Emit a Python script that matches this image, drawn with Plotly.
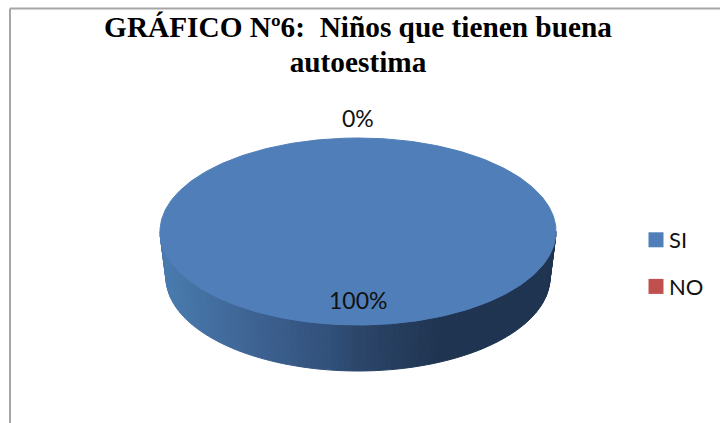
import numpy as np
import plotly.graph_objects as go

categories = ["SI", "NO"]
values = [100, 0]
colors = ["#4F7EB9", "#C0504D"]
title_lines = ["GRÁFICO Nº6:\u00a0\u00a0Niños que tienen buena", "autoestima"]

W, H = 720, 423
CX, CY, RX, RY = 358, 231.5, 198, 93.5
DEPTH, RX_BOTTOM = 46, 192
SIDE_X = [160, 250, 330, 358, 440, 556]
SIDE_RGB = [(74, 124, 176), (62, 100, 148), (49, 80, 122), (44, 70, 106), (31, 52, 80), (31, 52, 80)]

total = sum(values)
fig = go.Figure()

# extruded rim, front half only
edges = np.linspace(np.pi, 0, 91)
for a, b in zip(edges[:-1], edges[1:]):
    th = np.array([a, b, b, a, a])
    top = np.array([True, True, False, False, True])
    r = np.where(top, RX, RX_BOTTOM)
    xs = CX + r * np.cos(th)
    ys = np.where(top, CY, CY + DEPTH) + RY * np.sin(th)
    mx = xs.mean()
    rgb = [int(round(np.interp(mx, SIDE_X, [c[i] for c in SIDE_RGB]))) for i in range(3)]
    col = f"rgb({rgb[0]},{rgb[1]},{rgb[2]})"
    fig.add_trace(go.Scatter(x=xs, y=ys, mode="lines", fill="toself", fillcolor=col,
                             line=dict(color=col, width=1), hoverinfo="skip", showlegend=False))

# top face, one wedge per category
start = 0.0
mids = []
for cat, val, col in zip(categories, values, colors):
    frac = val / total
    mids.append(start + frac / 2)
    if frac > 0:
        t = np.linspace(start, start + frac, 361) * 2 * np.pi
        xs = CX + RX * np.sin(t)
        ys = CY - RY * np.cos(t)
        fig.add_trace(go.Scatter(x=xs, y=ys, mode="lines", fill="toself", fillcolor=col,
                                 line=dict(color=col, width=1), name=cat, showlegend=False,
                                 hoverinfo="name"))
    start += frac

# legend entries
for cat, col in zip(categories, colors):
    fig.add_trace(go.Scatter(x=[None], y=[None], mode="markers", name=cat, legendgroup=cat,
                             marker=dict(symbol="square", size=15, color=col)))

# percentage labels
for val, mid in zip(values, mids):
    a = mid * 2 * np.pi
    k = 0.73 if val > 50 else 1.215
    fig.add_annotation(x=CX + k * RX * np.sin(a), y=CY - k * RY * np.cos(a),
                       text=f"{val}%", showarrow=False,
                       font=dict(family="Lato", size=23, color="#111111"))

title_text = "<br>".join(f'<span style="font-size:29.3px">{s}</span>' for s in title_lines)

fig.update_layout(
    width=W, height=H, autosize=False,
    margin=dict(l=0, r=0, t=0, b=0),
    paper_bgcolor="white", plot_bgcolor="white",
    title=dict(text=title_text, x=358 / W, xanchor="center",
               y=1 - 37 / H, yanchor="top",
               font=dict(family="Liberation Serif", size=27, color="black", weight="bold")),
    xaxis=dict(range=[0, W], visible=False, fixedrange=True),
    yaxis=dict(range=[H, 0], visible=False, fixedrange=True),
    legend=dict(x=636 / W, y=1 - 219 / H, xanchor="left", yanchor="top",
                tracegroupgap=15,
                font=dict(family="Lato", size=22, color="#111111"), bgcolor="rgba(0,0,0,0)"),
    shapes=[
        dict(type="line", x0=10, x1=10, y0=8.5, y1=H, line=dict(color="#A6A6A6", width=2)),
        dict(type="line", x0=10, x1=W, y0=8.5, y1=8.5, line=dict(color="#A6A6A6", width=2)),
    ],
)
post = """
document.body.style.margin = '0';
document.querySelectorAll('.legendtext').forEach(function (t) {
  t.setAttribute('x', parseFloat(t.getAttribute('x')) - 7);
});
"""
fig.write_html("out.html", config=dict(displayModeBar=False), post_script=post)
